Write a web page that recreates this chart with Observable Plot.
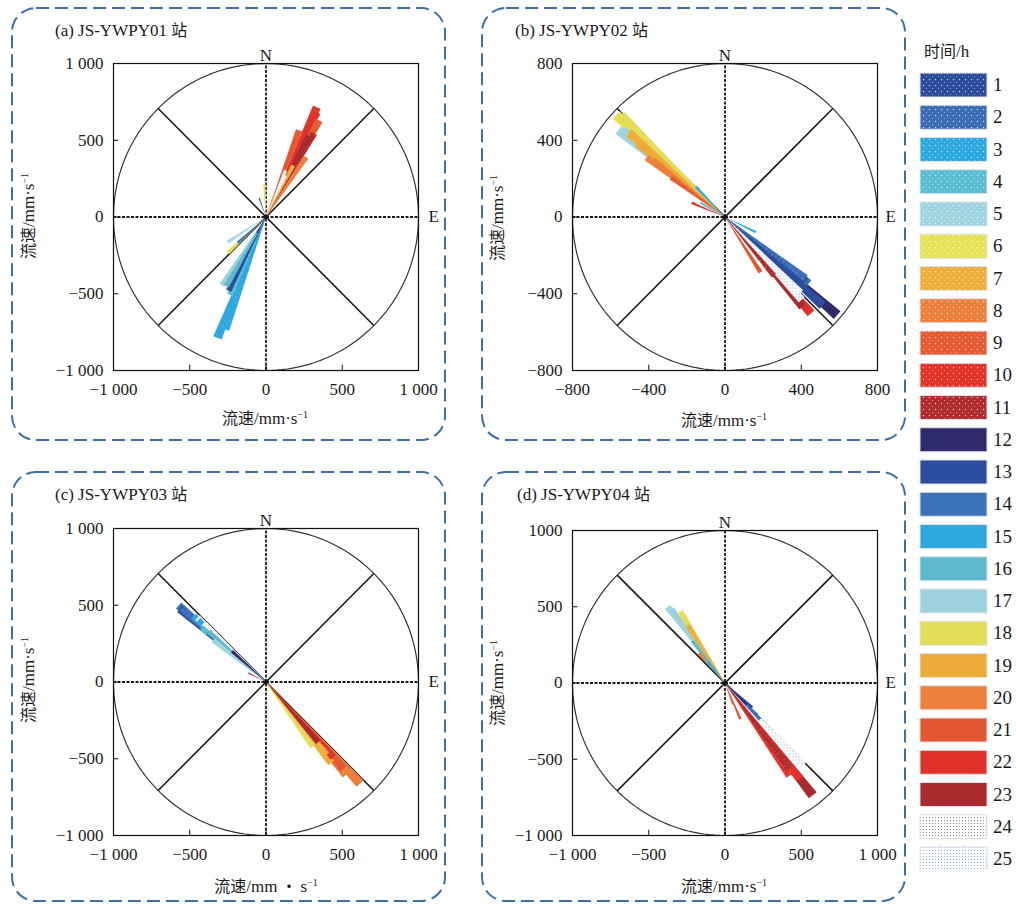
<!DOCTYPE html>
<html><head><meta charset="utf-8">
<script src="https://cdn.jsdelivr.net/npm/d3@7"></script>
<script src="https://cdn.jsdelivr.net/npm/@observablehq/plot@0.6"></script>
<style>
body{margin:0;background:#fff;}
#root{position:relative;width:1016px;height:904px;overflow:hidden;font-family:"Liberation Serif","Times New Roman","Noto Sans CJK SC",serif;color:#1a1a1a;}
.t{position:absolute;font-size:17px;line-height:20px;white-space:nowrap;}
.yl{position:absolute;font-size:17px;line-height:20px;white-space:nowrap;transform:translate(-50%,-50%) rotate(-90deg);}
.xl{position:absolute;font-size:17px;line-height:20px;white-space:nowrap;transform:translate(-50%,-50%);}
sup{font-size:10px;vertical-align:6px;line-height:0;}
.cjk{font-family:"Noto Sans CJK SC",sans-serif;font-size:16px;}
</style></head><body><div id="root"></div>
<script>
// ---------- data ----------
const hours = [1,2,3,4,5,6,7,8,9,10,11,12,13,14,15,16,17,18,19,20,21,22,23,24,25];
const hourColors = ["#2b4b9b","#3a6db6","#2ba8e0","#5bbdd1","#9fd4e1","#e7e155","#efae3b","#ec803b","#e55a30","#e33227","#b02b2c","#2f2b6b","#2c4d9d","#3b73b9","#2ea8df","#5db9cd","#9dd1dd","#e4dd56","#edab38","#ec803b","#e4562f","#e0322a","#a92b2d","#ffffff","#ffffff"];
// speed (mm/s) and direction (deg clockwise from N) per hour
const speedA = [130,170,780,560,300,216,380,470,720,790,630,120,540,250,850,520,530,340,150,470,605,760,600,330,300];
const dirA   = [340,205,200,205,237,357,28,34,29,25,30,210,207,228,202,210,213,227,20,34,21,26,28,23,25];
const speedB = [540,530,180,120,720,780,670,515,350,190,400,780,690,560,220,150,700,760,600,480,343,675,620,590,560];
const dirB   = [128,127,116,300,309,313,311,307,306,293,140,131,132,128,316,300,310,314,310,308,147,138,139,137,135];
const speedC = [500,730,640,550,430,150,620,800,700,650,130,300,740,760,600,500,440,520,680,905,760,660,520,615,560];
const dirC   = [310,311,312,310,308,145,140,139,138,138,297,312,310,311,312,311,308,144,141,137,138,138,139,313,313];
const speedD = [240,300,120,200,625,553,420,250,150,740,700,200,240,330,180,350,600,520,450,260,256,800,935,745,700];
const dirD   = [132,135,320,320,323,328,327,319,160,145,143,135,132,136,322,322,324,328,327,319,157,142,142,136,137];
const ticks1000 = [-1000,-500,0,500,1000];
const tickLabels1000 = ["−1 000","−500","0","500","1 000"];
const ticks800 = [-800,-400,0,400,800];
const tickLabels800 = ["−800","−400","0","400","800"];
const yTickLabelsD = ["−1 000","−500","0","500","1000"];

// ---------- patterns ----------
const NS = "http://www.w3.org/2000/svg";
const defsSvg = document.createElementNS(NS,"svg");
defsSvg.setAttribute("width",0);defsSvg.setAttribute("height",0);
defsSvg.style.position="absolute";
function patterns(prefix, dotOp) {
  let s = "";
  hours.forEach((h,i)=>{
    const c = hourColors[i];
    if (h<=11) {
      s += `<pattern id="${prefix}${h}" width="6" height="6" patternUnits="userSpaceOnUse"><rect width="6" height="6" fill="${c}"/><circle cx="1.5" cy="1.5" r="0.7" fill="#fff" fill-opacity="${dotOp}"/><circle cx="4.5" cy="4.5" r="0.55" fill="#fff" fill-opacity="${dotOp*0.7}"/></pattern>`;
    } else if (h===24) {
      s += `<pattern id="${prefix}${h}" width="3" height="3" patternUnits="userSpaceOnUse"><rect width="3" height="3" fill="#fff"/><circle cx="1.5" cy="1.5" r="0.6" fill="#777"/></pattern>`;
    } else if (h===25) {
      s += `<pattern id="${prefix}${h}" width="3" height="3" patternUnits="userSpaceOnUse"><rect width="3" height="3" fill="#fff"/><circle cx="1.5" cy="1.5" r="0.6" fill="#7a9bd6"/></pattern>`;
    } else {
      s += `<pattern id="${prefix}${h}" width="6" height="6" patternUnits="userSpaceOnUse"><rect width="6" height="6" fill="${c}"/></pattern>`;
    }
  });
  return s;
}
defsSvg.innerHTML = "<defs>" + patterns("pat", 0.75) + patterns("wpat", 0.35) + "</defs>";
document.body.appendChild(defsSvg);

const root = document.getElementById("root");

// ---------- dashed boxes ----------
const boxes = document.createElementNS(NS,"svg");
boxes.setAttribute("width",1016);boxes.setAttribute("height",904);
boxes.style.position="absolute";boxes.style.left="0";boxes.style.top="0";
boxes.innerHTML = [[12,8,433,432],[482,8,423,432],[12,472,433,429],[482,472,423,429]].map(([x,y,w,h])=>
  `<rect x="${x}" y="${y}" width="${w}" height="${h}" rx="24" fill="none" stroke="#3f6fa6" stroke-width="2" stroke-dasharray="13 6"/>`).join("");
root.appendChild(boxes);

// ---------- panels ----------
const fontFamily = '"Liberation Serif","Times New Roman","Noto Sans CJK SC",serif';
function makePanel(cfg) {
  const {speed, dir, R, ticks, xLabels, yLabels} = cfg;
  const half = 2.0 * Math.PI/180;
  const order = d3.range(speed.length).sort((a,b)=>speed[b]-speed[a]);
  const wedges = [];
  for (const i of order) {
    const b = dir[i]*Math.PI/180, r = speed[i];
    wedges.push({id:i, hour:hours[i], x:0, y:0});
    wedges.push({id:i, hour:hours[i], x:r*Math.sin(b-half), y:r*Math.cos(b-half)});
    wedges.push({id:i, hour:hours[i], x:r*Math.sin(b+half), y:r*Math.cos(b+half)});
  }
  const circle = d3.range(0,361,2).map(a=>({x:R*Math.sin(a*Math.PI/180), y:R*Math.cos(a*Math.PI/180)}));
  const d = R*Math.SQRT1_2;
  const diags = [{x1:-d,y1:-d,x2:d,y2:d},{x1:-d,y1:d,x2:d,y2:-d}];
  const tl = R*0.035;
  const marks = [
      Plot.line(circle, {x:"x", y:"y", stroke:"#333", strokeWidth:1.2}),
      Plot.link(diags, {x1:"x1", y1:"y1", x2:"x2", y2:"y2", stroke:"#1a1a1a", strokeWidth:1.6}),
      Plot.ruleX([0], {x:d=>d, y1:()=>-R, y2:()=>R, stroke:"#1a1a1a", strokeWidth:1.8, strokeDasharray:"3,1.5"}),
      Plot.ruleY([0], {y:d=>d, x1:()=>-R, x2:()=>R, stroke:"#1a1a1a", strokeWidth:1.8, strokeDasharray:"3,1.5"}),
      Plot.line(wedges, {x:"x", y:"y", z:"id", fill:"hour", stroke:null, curve:"linear-closed"}),
      Plot.dot([{x:0,y:0}], {x:"x", y:"y", r:2, fill:"#111"}),
      Plot.ruleX(ticks, {x:d=>d, y1:()=>-R, y2:()=>-R+tl, stroke:"#111"}),
      Plot.ruleY(ticks, {y:d=>d, x1:()=>-R, x2:()=>-R+tl, stroke:"#111"}),
      Plot.frame({stroke:"#111", strokeWidth:1.2}),
      Plot.axisX(ticks, {anchor:"bottom", tickSize:0, tickPadding:12, label:null, tickFormat:v=>xLabels[ticks.indexOf(v)]}),
      Plot.axisY(ticks, {anchor:"left", tickSize:0, tickPadding:10, label:null, tickFormat:v=>yLabels[ticks.indexOf(v)]}),
      Plot.text(["N"], {frameAnchor:"top", dy:-15, text:d=>d, fontSize:17})
  ];
  if (cfg.showE) marks.push(Plot.text(["E"], {frameAnchor:"right", dx:cfg.edx, textAnchor:"start", text:d=>d, fontSize:17}));
  const svg = Plot.plot({
    width: cfg.width, height: cfg.height,
    marginLeft: cfg.ml, marginRight: cfg.mr, marginTop: cfg.mt, marginBottom: cfg.mb,
    x: {domain:[-R,R]}, y: {domain:[-R,R]},
    color: {type:"ordinal", domain: hours, range: hours.map(h=>`url(#wpat${h})`)},
    style: {fontFamily, fontSize:"17px", color:"#1a1a1a", background:"transparent", overflow:"visible"},
    marks
  });
  svg.style.position = "absolute";
  svg.style.left = cfg.left + "px";
  svg.style.top = cfg.top + "px";
  root.appendChild(svg);
}

makePanel({speed:speedA, dir:dirA, R:1000, ticks:ticks1000, xLabels:tickLabels1000, yLabels:tickLabels1000,
  left:12, top:7, width:433, height:433, ml:101, mr:27, mt:56, mb:70, edx:10, showE:true});
makePanel({speed:speedB, dir:dirB, R:800, ticks:ticks800, xLabels:tickLabels800, yLabels:tickLabels800,
  left:482, top:7, width:423, height:433, ml:90, mr:28, mt:56, mb:70, edx:8, showE:true});
makePanel({speed:speedC, dir:dirC, R:1000, ticks:ticks1000, xLabels:tickLabels1000, yLabels:tickLabels1000,
  left:12, top:470, width:433, height:432, ml:101, mr:27, mt:58, mb:67, edx:10, showE:true});
makePanel({speed:speedD, dir:dirD, R:1000, ticks:ticks1000, xLabels:tickLabels1000, yLabels:yTickLabelsD,
  left:482, top:470, width:423, height:432, ml:90, mr:28, mt:60, mb:67, edx:8, showE:true});

// ---------- text ----------
function addDiv(cls, html, x, y) {
  const el = document.createElement("div");
  el.className = cls; el.innerHTML = html;
  el.style.left = x + "px"; el.style.top = y + "px";
  root.appendChild(el);
}
const titles = [["(a) JS-YWPY01 <span class='cjk'>站</span>",55,19],["(b) JS-YWPY02 <span class='cjk'>站</span>",515,19],
                ["(c) JS-YWPY03 <span class='cjk'>站</span>",55,483],["(d) JS-YWPY04 <span class='cjk'>站</span>",517,483]];
titles.forEach(([t,x,y])=>addDiv("t",t,x,y));
const unit = "<span class='cjk'>流速</span>/mm·s<sup>−1</sup>";
const unitC = "<span class='cjk'>流速</span>/mm<span class='cjk'> ・ </span>s<sup>−1</sup>";
addDiv("xl", unit, 265, 418);
addDiv("xl", unit, 724, 420);
addDiv("xl", unitC, 266, 886);
addDiv("xl", unit, 724, 886);
addDiv("yl", unit, 28, 216);
addDiv("yl", unit, 497, 218);
addDiv("yl", unit, 28, 680);
addDiv("yl", unit, 497, 683);

// ---------- legend ----------
addDiv("t", "<span class='cjk'>时间</span>/h", 924, 40);
const leg = document.createElementNS(NS,"svg");
leg.setAttribute("width",100);leg.setAttribute("height",870);
leg.style.position="absolute";leg.style.left="916px";leg.style.top="0";
leg.innerHTML = hours.map((h,i)=>{
  const y = 73 + i*32.25;
  return `<rect x="4" y="${y}" width="67" height="24" fill="url(#pat${h})" stroke="#dde3ea" stroke-width="1"/>`+
         `<text x="77" y="${y+18}" font-size="19" font-family='${fontFamily}' fill="#1a1a1a">${h}</text>`;
}).join("");
root.appendChild(leg);
</script>
</body></html>
